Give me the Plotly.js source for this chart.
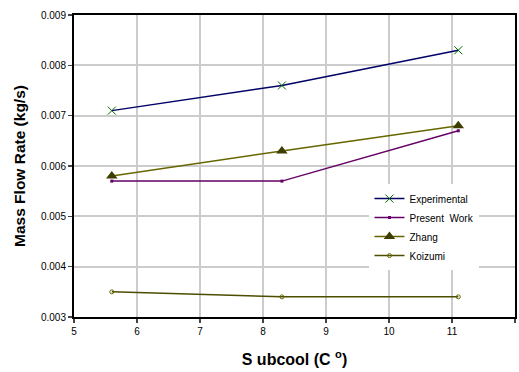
<!DOCTYPE html>
<html>
<head>
<meta charset="utf-8">
<script src="https://cdn.plot.ly/plotly-3.0.1.min.js"></script>
<style>
  html, body { margin: 0; padding: 0; background: #fff; }
  #chart { width: 519px; height: 372px; }
</style>
</head>
<body>
<div id="chart"></div>
<script>
// Subcooling levels (°C)
const subcool = [5.6, 8.3, 11.1];

// Mass flow rate series (kg/s)
const experimental = [0.0071, 0.0076, 0.0083];
const presentWork  = [0.0057, 0.0057, 0.0067];
const zhang        = [0.0058, 0.0063, 0.0068];
const koizumi      = [0.0035, 0.0034, 0.0034];

const yTicks = [0.003, 0.004, 0.005, 0.006, 0.007, 0.008, 0.009];
const yTickText = ['0.003', '0.004', '0.005', '0.006', '0.007', '0.008', '0.009'];
const xTicks = [5, 6, 7, 8, 9, 10, 11, 12];

const traces = [
  {
    name: 'Experimental', x: subcool, y: experimental, mode: 'lines+markers',
    line: { color: '#000066', width: 1.5 },
    marker: { symbol: 'x-thin-open', size: 8, color: '#006600', line: { color: '#006600', width: 1 } }
  },
  {
    name: 'Present  Work', x: subcool, y: presentWork, mode: 'lines+markers',
    line: { color: '#660066', width: 1.5 },
    marker: { symbol: 'square', size: 3, color: '#660066' }
  },
  {
    name: 'Zhang', x: subcool, y: zhang, mode: 'lines+markers',
    line: { color: '#666600', width: 1.5 },
    marker: { symbol: 'triangle-up', size: 10, color: '#3d3d00' }
  },
  {
    name: 'Koizumi', x: subcool, y: koizumi, mode: 'lines+markers',
    line: { color: '#4d4d00', width: 1.5 },
    marker: { symbol: 'circle-open', size: 4, color: '#666600', line: { color: '#666600', width: 1 } }
  }
];

const layout = {
  width: 519, height: 372,
  margin: { l: 74, r: 4, t: 15, b: 55 },
  paper_bgcolor: '#ffffff', plot_bgcolor: '#ffffff',
  font: { family: 'Liberation Sans, Arial, sans-serif', color: '#000' },
  showlegend: true,
  legend: {
    x: 0.67, y: 0.44, xanchor: 'left', yanchor: 'top',
    bgcolor: '#ffffff', borderwidth: 0,
    font: { size: 10, family: 'Liberation Sans, Arial, sans-serif' },
    itemwidth: 30, tracegroupgap: 0
  },
  xaxis: {
    range: [5, 12], tickvals: xTicks, ticks: 'outside', ticklen: 4, tickwidth: 1.5,
    showgrid: true, gridcolor: '#cccccc', gridwidth: 2, zeroline: false,
    showline: true, linecolor: '#000', linewidth: 2, mirror: true,
    tickfont: { size: 10 },
    title: { text: '<b>S ubcool (C <sup>o</sup>)</b>', font: { size: 16 }, standoff: 18 }
  },
  yaxis: {
    range: [0.003, 0.009], tickvals: yTicks, ticktext: yTickText,
    ticks: 'outside', ticklen: 4, tickwidth: 1.5,
    showgrid: true, gridcolor: '#cccccc', gridwidth: 2, zeroline: false,
    showline: true, linecolor: '#000', linewidth: 2, mirror: true,
    tickfont: { size: 10 },
    title: { text: '<b>Mass Flow Rate (kg/s)</b>', font: { size: 15.5 }, standoff: 12 }
  }
};

Plotly.newPlot('chart', traces, layout, { displayModeBar: false, staticPlot: true });
</script>
</body>
</html>
